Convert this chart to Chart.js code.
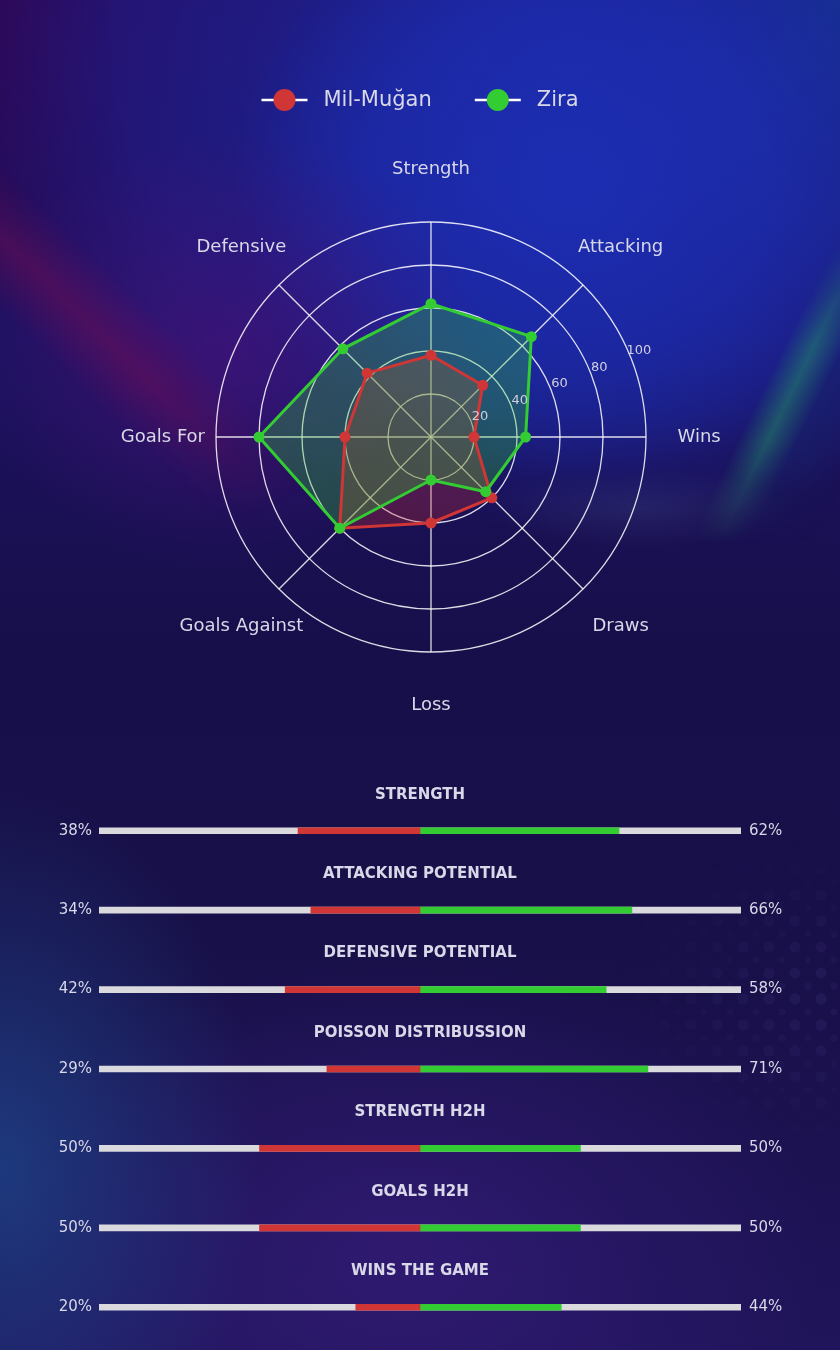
<!DOCTYPE html>
<html>
<head>
<meta charset="utf-8">
<title>Mil-Muğan vs Zira</title>
<script src="https://cdn.jsdelivr.net/npm/chart.js@4.4.1/dist/chart.umd.min.js"></script>
<style>
  html, body { margin: 0; padding: 0; }
  body {
    width: 840px;
    height: 1350px;
    position: relative;
    overflow: hidden;
    font-family: "DejaVu Sans", sans-serif;
    background: linear-gradient(180deg, #250a55 0%, #1d1262 25%, #170f4a 48%, #181048 70%, #20145a 100%);
  }
  .layer { position: absolute; pointer-events: none; }
  #glowBlue {
    left: 0; top: 0; width: 840px; height: 760px;
    background:
      radial-gradient(ellipse 260px 220px at 27% 46%, rgba(70, 18, 120, 0.7), rgba(70, 18, 120, 0) 100%),
      radial-gradient(ellipse 340px 300px at 68% 24%, rgba(28, 46, 180, 0.95) 0%, rgba(28, 46, 180, 0.6) 60%, rgba(28, 46, 180, 0) 100%),
      radial-gradient(ellipse 600px 470px at 68% 8%, rgba(26, 40, 165, 0.85) 0%, rgba(26, 40, 165, 0.4) 75%, rgba(26, 40, 165, 0) 100%),
      radial-gradient(ellipse 240px 300px at 100% 0%, rgba(16, 62, 130, 0.85), rgba(16, 62, 130, 0) 100%),
      radial-gradient(ellipse 320px 320px at 0% 0%, rgba(48, 6, 84, 0.85), rgba(48, 6, 84, 0) 100%);
  }
  #streakPink {
    left: 0; top: 150px; width: 440px; height: 400px;
    background: linear-gradient(44deg, rgba(120, 14, 85, 0) 29%, rgba(110, 14, 85, 0.5) 38%, rgba(120, 14, 85, 0) 47%);
    -webkit-mask-image: radial-gradient(ellipse 320px 250px at 18% 40%, #000 35%, rgba(0,0,0,0) 100%);
    mask-image: radial-gradient(ellipse 320px 250px at 18% 40%, #000 35%, rgba(0,0,0,0) 100%);
  }
  #streakTeal {
    left: 620px; top: 250px; width: 220px; height: 320px;
    background:
      linear-gradient(116deg, rgba(36, 160, 110, 0) 56%, rgba(36, 150, 105, 0.5) 64%, rgba(20, 50, 110, 0.3) 72%, rgba(20, 50, 110, 0) 90%);
    -webkit-mask-image: linear-gradient(180deg, rgba(0,0,0,0.3) 0%, #000 30%, #000 60%, rgba(0,0,0,0) 92%);
    mask-image: linear-gradient(180deg, rgba(0,0,0,0.3) 0%, #000 30%, #000 60%, rgba(0,0,0,0) 92%);
  }
  #haze {
    left: 420px; top: 420px; width: 420px; height: 160px;
    background: radial-gradient(ellipse 150px 40px at 52% 55%, rgba(95, 115, 165, 0.16), rgba(95, 115, 165, 0) 100%);
  }
  #glowBottom {
    left: 0; top: 700px; width: 840px; height: 650px;
    background:
      radial-gradient(ellipse 260px 380px at 0% 72%, rgba(30, 70, 140, 0.75), rgba(30, 70, 140, 0) 100%),
      radial-gradient(ellipse 420px 300px at 48% 85%, rgba(58, 30, 130, 0.6), rgba(58, 30, 130, 0) 100%);
  }
  #dots {
    left: 600px; top: 830px; width: 240px; height: 330px;
    background:
      radial-gradient(circle, rgba(120, 110, 210, 0.11) 0 5px, rgba(0,0,0,0) 6px) 0 0 / 26px 26px,
      radial-gradient(circle, rgba(120, 110, 210, 0.08) 0 3px, rgba(0,0,0,0) 4px) 13px 13px / 26px 26px;
    -webkit-mask-image: radial-gradient(ellipse 230px 160px at 100% 50%, #000 0%, rgba(0,0,0,0) 100%);
    mask-image: radial-gradient(ellipse 230px 160px at 100% 50%, #000 0%, rgba(0,0,0,0) 100%);
  }
  #radarBox { position: absolute; left: 0; top: 0; width: 840px; height: 760px; }
  #barBox { position: absolute; left: 0; top: 760px; width: 840px; height: 590px; }
</style>
</head>
<body>
<div class="layer" id="glowBlue"></div>
<div class="layer" id="streakPink"></div>
<div class="layer" id="streakTeal"></div>
<div class="layer" id="haze"></div>
<div class="layer" id="glowBottom"></div>
<div class="layer" id="dots"></div>
<div id="radarBox"><canvas id="chartRadar"></canvas></div>
<div id="barBox"><canvas id="chartBars"></canvas></div>
<script>
// radar data
const teamNames = ["Mil-Muğan", "Zira"];
const axisLabels = ["Strength", "Attacking", "Wins", "Draws", "Loss", "Goals Against", "Goals For", "Defensive"];
const milMuganValues = [38, 34, 20, 40, 40, 60, 40, 42];
const ziraValues = [62, 66, 44, 36, 20, 60, 80, 58];
const radarTicks = [20, 40, 60, 80, 100];

// comparison bars data
const barTitles = [
  "STRENGTH",
  "ATTACKING POTENTIAL",
  "DEFENSIVE POTENTIAL",
  "POISSON DISTRIBUSSION",
  "STRENGTH H2H",
  "GOALS H2H",
  "WINS THE GAME",
];
const milMuganPct = [38, 34, 42, 29, 50, 50, 20];
const ziraPct = [62, 66, 58, 71, 50, 50, 44];

const RED = "#d13636";
const GREEN = "#33cc33";
const TEXT = "#d8d8e8";
const FONT = "'DejaVu Sans', sans-serif";

const radarLabels = {
  id: "radarLabels",
  afterDraw(chart) {
    const { ctx } = chart;
    const r = chart.scales.r;
    ctx.save();
    ctx.textAlign = "center";
    ctx.textBaseline = "middle";

    // axis names
    ctx.fillStyle = TEXT;
    ctx.font = "18px " + FONT;
    const outer = r.getDistanceFromCenterForValue(r.max) * 1.247;
    axisLabels.forEach((label, i) => {
      const p = r.getPointPosition(i, outer);
      ctx.fillText(label, p.x, p.y);
    });

    // tick values sit between first and second spoke
    ctx.font = "13px " + FONT;
    ctx.fillStyle = "#cfcfe0";
    radarTicks.forEach((t) => {
      const p = r.getPointPosition(1.5, r.getDistanceFromCenterForValue(t) + 10);
      ctx.fillText(String(t), p.x, p.y);
    });

    // legend: line with dot, then name
    const colors = [RED, GREEN];
    ctx.font = "21px " + FONT;
    ctx.textAlign = "left";
    const lineW = 46, gapText = 16, gapItem = 43;
    const widths = teamNames.map((n) => ctx.measureText(n).width);
    let total = 0;
    widths.forEach((w, i) => { total += lineW + gapText + w + (i ? gapItem : 0); });
    let x = chart.width / 2 - total / 2;
    const y = 100;
    teamNames.forEach((name, i) => {
      ctx.strokeStyle = "#ffffff";
      ctx.lineWidth = 2.5;
      ctx.beginPath();
      ctx.moveTo(x, y);
      ctx.lineTo(x + lineW, y);
      ctx.stroke();
      ctx.fillStyle = colors[i];
      ctx.beginPath();
      ctx.arc(x + lineW / 2, y, 11, 0, Math.PI * 2);
      ctx.fill();
      ctx.fillStyle = TEXT;
      ctx.fillText(name, x + lineW + gapText, y + 1);
      x += lineW + gapText + widths[i] + gapItem;
    });
    ctx.restore();
  },
};

new Chart(document.getElementById("chartRadar"), {
  type: "radar",
  data: {
    labels: axisLabels,
    datasets: [
      {
        label: teamNames[0],
        data: milMuganValues,
        borderColor: RED,
        backgroundColor: "rgba(214, 45, 45, 0.28)",
        pointBackgroundColor: RED,
        fill: true,
        order: 2,
      },
      {
        label: teamNames[1],
        data: ziraValues,
        borderColor: GREEN,
        backgroundColor: "rgba(50, 205, 50, 0.3)",
        pointBackgroundColor: GREEN,
        fill: true,
        order: 1,
      },
    ],
  },
  options: {
    responsive: true,
    maintainAspectRatio: false,
    animation: false,
    layout: {
      padding: { left: 216, right: 194, top: 222, bottom: 108 },
    },
    elements: {
      line: { borderWidth: 3, tension: 0 },
      point: { radius: 5.5, borderWidth: 0, hoverRadius: 5.5 },
    },
    scales: {
      r: {
        min: 0,
        max: 100,
        ticks: { display: false, stepSize: 20 },
        grid: { circular: true, color: "rgba(255, 255, 255, 0.85)", lineWidth: 1.3 },
        angleLines: { color: "rgba(255, 255, 255, 0.85)", lineWidth: 1.3 },
        pointLabels: { display: false },
      },
    },
    plugins: {
      filler: { drawTime: "beforeDatasetsDraw" },
      legend: { display: false },
      tooltip: { enabled: false },
    },
  },
  plugins: [radarLabels],
});

const barText = {
  id: "barText",
  afterDraw(chart) {
    const { ctx, chartArea } = chart;
    const track = chart.getDatasetMeta(2).data;
    const midX = (chartArea.left + chartArea.right) / 2;
    ctx.save();
    ctx.textBaseline = "middle";
    ctx.fillStyle = TEXT;
    barTitles.forEach((title, i) => {
      const y = track[i].y;
      ctx.font = "bold 15px " + FONT;
      ctx.textAlign = "center";
      ctx.fillText(title, midX, y - 36);
      ctx.font = "15px " + FONT;
      ctx.textAlign = "right";
      ctx.fillText(milMuganPct[i] + "%", chartArea.left - 7, y);
      ctx.textAlign = "left";
      ctx.fillText(ziraPct[i] + "%", chartArea.right + 8, y);
    });
    ctx.restore();
  },
};

new Chart(document.getElementById("chartBars"), {
  type: "bar",
  data: {
    labels: barTitles,
    datasets: [
      { label: teamNames[0], data: milMuganPct.map((v) => [-v, 0]), backgroundColor: RED, order: 1 },
      { label: teamNames[1], data: ziraPct.map((v) => [0, v]), backgroundColor: GREEN, order: 1 },
      { label: "track", data: barTitles.map(() => [-100, 100]), backgroundColor: "#d9d9de", order: 2 },
    ],
  },
  options: {
    indexAxis: "y",
    responsive: true,
    maintainAspectRatio: false,
    animation: false,
    datasets: {
      bar: { grouped: false, barThickness: 6, borderWidth: 0, borderSkipped: false },
    },
    layout: {
      padding: { left: 99, right: 99, top: 31, bottom: 3 },
    },
    scales: {
      x: { display: false, min: -100, max: 100 },
      y: { display: false },
    },
    plugins: {
      legend: { display: false },
      tooltip: { enabled: false },
    },
  },
  plugins: [barText],
});
</script>
</body>
</html>
